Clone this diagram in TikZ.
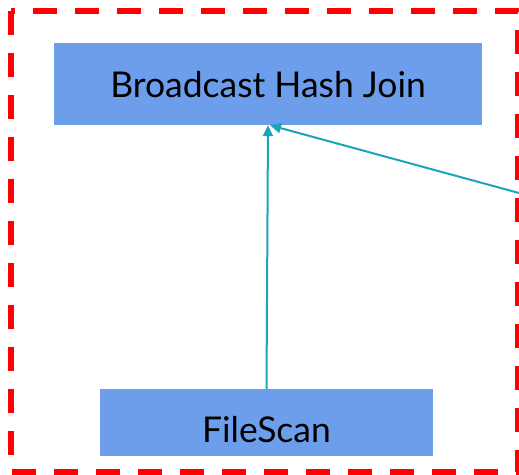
\documentclass[tikz,border=0pt]{standalone}
\usepackage{fontspec}
\setmainfont{Lato}
\usetikzlibrary{arrows.meta}
\definecolor{boxblue}{HTML}{6D9EEB}
\definecolor{flowteal}{HTML}{1AA5B8}
\definecolor{stageRed}{HTML}{FF0000}
\tikzset{
  opbox/.style={fill=boxblue, draw=none, inner sep=0pt, text=black,
                font=\fontsize{35.5}{42}\selectfont},
  flow/.style={draw=flowteal, line width=2pt,
               -{Triangle[length=11pt,width=10pt]}},
  stageframe/.style={draw=stageRed, line width=5.5pt,
                     dash pattern=on 24pt off 18pt},
}
\begin{document}
\begin{tikzpicture}[x=1pt,y=-1pt]
  \useasboundingbox (0,0) rectangle (519,474);
  % stage boundary
  \draw[stageframe] (11,11) rectangle (518,472);
  % operators
  \node[opbox, minimum width=428pt, minimum height=82pt,
        text height=26pt, text depth=0pt] (join) at (268,84) {Broadcast Hash Join};
  \node[opbox, minimum width=333pt, minimum height=67pt,
        text height=39pt, text depth=0pt] (scan) at (266.5,422.5) {FileScan};
  % incoming edge from outside the stage
  \coordinate (ext) at (519,193);
  \draw[flow] (scan.north) -- (join.south);
  \draw[flow] (ext) -- ([xshift=2pt]join.south);
\end{tikzpicture}
\end{document}
